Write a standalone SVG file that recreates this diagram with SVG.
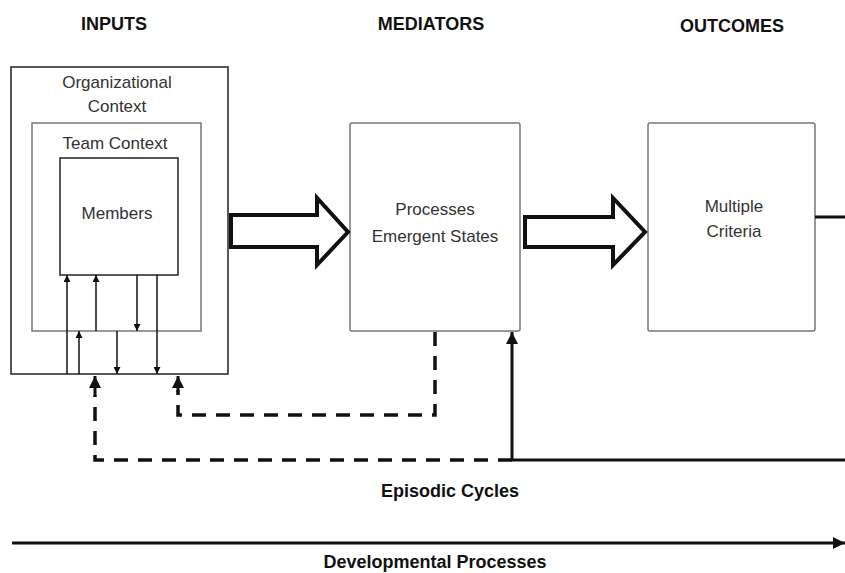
<svg xmlns="http://www.w3.org/2000/svg" width="845" height="573" viewBox="0 0 845 573">
<defs>
<style>
.box{fill:#fff;stroke:#222;stroke-width:1.5}
.gbox{fill:#fff;stroke:#777;stroke-width:1.5}
.lbl{font-family:"Liberation Sans",Arial,sans-serif;font-size:17px;fill:#333;text-anchor:middle}
.hdr{font-family:"Liberation Sans",Arial,sans-serif;font-size:18px;font-weight:bold;fill:#111;text-anchor:middle}
.thin{fill:none;stroke:#111;stroke-width:1.5}
.dash{fill:none;stroke:#111;stroke-width:3.5;stroke-dasharray:14,10}
.solid{fill:none;stroke:#111;stroke-width:3}
.block{fill:#fff;stroke:#111;stroke-width:4;stroke-linejoin:miter}
</style>
<marker id="sa" viewBox="0 0 10 10" refX="10" refY="5" markerWidth="7" markerHeight="7" orient="auto" markerUnits="userSpaceOnUse"><path d="M0,0 L10,5 L0,10 z" fill="#111"/></marker>
<marker id="ma" viewBox="0 0 10 10" refX="10" refY="5" markerWidth="12" markerHeight="12" orient="auto" markerUnits="userSpaceOnUse"><path d="M0,0 L10,5 L0,10 z" fill="#111"/></marker>
</defs>
<text class="hdr" x="114" y="30">INPUTS</text>
<text class="hdr" x="431" y="30">MEDIATORS</text>
<text class="hdr" x="732" y="32">OUTCOMES</text>
<g id="org"><rect class="box" x="11" y="67" width="217" height="307"/>
<text class="lbl" x="117" y="88">Organizational</text><text class="lbl" x="117" y="112">Context</text></g>
<g id="team"><rect class="gbox" x="32" y="123" width="169" height="208"/>
<text class="lbl" x="115" y="149">Team Context</text></g>
<g id="members"><rect class="box" x="60" y="158" width="118" height="117"/>
<text class="lbl" x="117" y="219">Members</text></g>
<g id="mediators"><rect class="gbox" x="350" y="123" width="170" height="208" rx="2"/>
<text class="lbl" x="435" y="215">Processes</text><text class="lbl" x="435" y="242">Emergent States</text></g>
<g id="outcomes"><rect class="gbox" x="648" y="123" width="167" height="208" rx="2"/>
<text class="lbl" x="734" y="212">Multiple</text><text class="lbl" x="734" y="237">Criteria</text></g>
<g id="connectors">
<path class="block" d="M231,215 H317 V198 L348,232 L317,265 V247 H231 Z"/>
<path class="block" d="M525,217 H613 V198 L645,232 L613,265 V247 H525 Z"/>
<path class="thin" d="M67,374 V275" marker-end="url(#sa)"/>
<path class="thin" d="M79,374 V331" marker-end="url(#sa)"/>
<path class="thin" d="M96,331 V275" marker-end="url(#sa)"/>
<path class="thin" d="M137,275 V331" marker-end="url(#sa)"/>
<path class="thin" d="M117,331 V374" marker-end="url(#sa)"/>
<path class="thin" d="M157,275 V374" marker-end="url(#sa)"/>
<path class="dash" d="M435,332 V415 H178 V390"/>
<path class="solid" d="M178,392 V376" marker-end="url(#ma)"/>
<path class="dash" d="M512,460 H95 V395"/>
<path class="solid" d="M95,395 V376" marker-end="url(#ma)"/>
<path class="solid" d="M845,460 H512 V332" marker-end="url(#ma)"/>
<path class="solid" d="M815,217 H845"/>
<path class="solid" d="M12,543 H845" marker-end="url(#ma)"/>
</g>
<text class="hdr" x="450" y="497">Episodic Cycles</text>
<text class="hdr" x="435" y="568">Developmental Processes</text>
</svg>
